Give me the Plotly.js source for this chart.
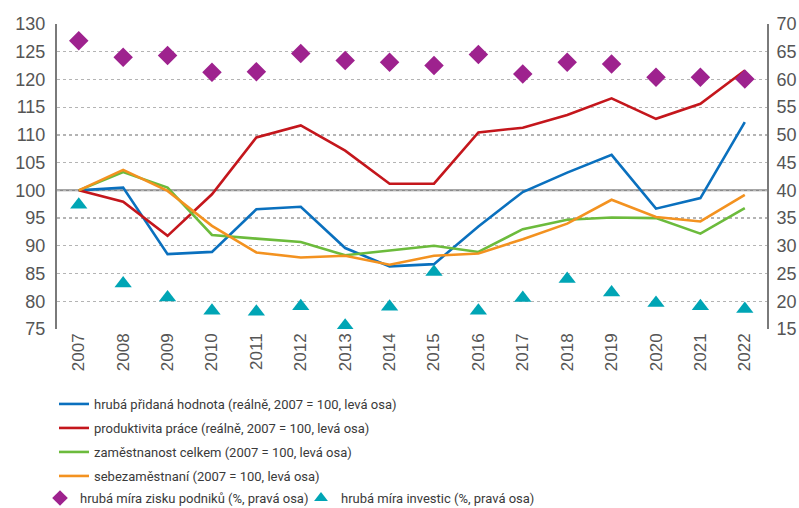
<!DOCTYPE html>
<html>
<head>
<meta charset="utf-8">
<script src="https://cdn.plot.ly/plotly-3.0.1.min.js"></script>
<style>html,body{margin:0;padding:0;background:#fff;}#chart{width:799px;height:508px;}</style>
</head>
<body>
<div id="chart"></div>
<script>
const years = ['2007','2008','2009','2010','2011','2012','2013','2014','2015','2016','2017','2018','2019','2020','2021','2022'];
const hph = [100, 100.5, 88.5, 88.9, 96.6, 97.05, 89.6, 86.3, 86.7, 93.5, 99.7, 103.2, 106.4, 96.7, 98.6, 112.3];
const produktivita = [100, 97.95, 91.8, 99.3, 109.55, 111.7, 107.15, 101.2, 101.2, 110.45, 111.3, 113.6, 116.6, 112.9, 115.6, 121.6];
const zamestnanost = [100, 103.3, 100.5, 91.95, 91.3, 90.7, 88.3, 89.2, 90.0, 88.9, 93.0, 94.7, 95.1, 95.0, 92.2, 96.8];
const sebezam = [100, 103.7, 99.9, 93.6, 88.8, 87.9, 88.2, 86.6, 88.2, 88.6, 91.2, 94.0, 98.3, 95.2, 94.4, 99.2];
const miraZisku = [67.0, 64.0, 64.3, 61.3, 61.4, 64.7, 63.4, 63.1, 62.5, 64.5, 61.0, 63.1, 62.8, 60.4, 60.4, 60.1];
const miraInvestic = [37.4, 23.2, 20.7, 18.3, 18.1, 19.1, 15.6, 19.0, 25.3, 18.3, 20.6, 24.0, 21.6, 19.7, 19.1, 18.6];
const names = [
  'hrubá přidaná hodnota (reálně, 2007 = 100, levá osa)',
  'produktivita práce (reálně, 2007 = 100, levá osa)',
  'zaměstnanost celkem (2007 = 100, levá osa)',
  'sebezaměstnaní (2007 = 100, levá osa)',
  'hrubá míra zisku podniků (%, pravá osa)',
  'hrubá míra investic (%, pravá osa)'
];
const legendFont = {family: 'Roboto, "Liberation Sans", sans-serif', size: 13, color: '#3a3a3a'};
const tickFont = '"Liberation Sans", Arial, sans-serif';

function lineTrace(y, name, color, lg) {
  return {x: years, y: y, name: name, type: 'scatter', mode: 'lines',
    line: {color: color, width: 2.6}, yaxis: 'y', legend: lg};
}
const data = [
  lineTrace(hph, names[0], '#0A70BE', 'legend'),
  lineTrace(produktivita, names[1], '#C4161C', 'legend2'),
  lineTrace(zamestnanost, names[2], '#6CBB3C', 'legend3'),
  lineTrace(sebezam, names[3], '#F39220', 'legend4'),
  {x: years, y: miraZisku, name: names[4], type: 'scatter', mode: 'markers', yaxis: 'y2',
   marker: {symbol: 'diamond', size: 15, color: '#9E228E'}, legend: 'legend5'},
  {x: years, y: miraInvestic, name: names[5], type: 'scatter', mode: 'markers', yaxis: 'y2',
   marker: {symbol: 'triangle-up', size: 15, color: '#00A5B5'}, legend: 'legend6'}
];

function lg(px, py, sizing) {
  return {xref: 'container', yref: 'container', x: px / 799, y: 1 - py / 508,
    xanchor: 'left', yanchor: 'middle', orientation: 'v', bgcolor: 'rgba(0,0,0,0)',
    itemwidth: 30, itemsizing: sizing, font: legendFont};
}

const layout = {
  width: 799, height: 508,
  margin: {l: 57, r: 32, t: 24, b: 179, autoexpand: false},
  paper_bgcolor: '#fff', plot_bgcolor: '#fff',
  showlegend: true,
  xaxis: {type: 'category', range: [-0.49, 15.5], showgrid: false, zeroline: false,
    showline: false, ticks: '', tickangle: -90,
    tickfont: {family: tickFont, size: 17, color: '#555'}},
  yaxis: {range: [75, 130], dtick: 5, tick0: 75, showgrid: true, gridcolor: '#b4b4b4',
    griddash: 'dot', gridwidth: 1.3, zeroline: false, showline: true, linecolor: '#7a7a7a',
    linewidth: 2, ticks: '', ticklabelstandoff: 6,
    tickfont: {family: tickFont, size: 18, color: '#555'}},
  yaxis2: {range: [15, 70], dtick: 5, tick0: 15, overlaying: 'y', side: 'right',
    showgrid: false, zeroline: false, showline: true, linecolor: '#7a7a7a', linewidth: 2,
    ticks: '', ticklabelstandoff: 4,
    tickfont: {family: tickFont, size: 18, color: '#555'}},
  shapes: [{type: 'line', xref: 'paper', yref: 'y', x0: 0, x1: 1, y0: 100, y1: 100,
    line: {color: '#8a8a8a', width: 2}, layer: 'below'}],
  legend: lg(54, 404, 'trace'),
  legend2: lg(54, 428, 'trace'),
  legend3: lg(54, 452, 'trace'),
  legend4: lg(54, 476, 'trace'),
  legend5: lg(40, 498, 'constant'),
  legend6: lg(301, 498, 'constant')
};
Plotly.newPlot('chart', data, layout, {displayModeBar: false, staticPlot: true});
</script>
</body>
</html>
